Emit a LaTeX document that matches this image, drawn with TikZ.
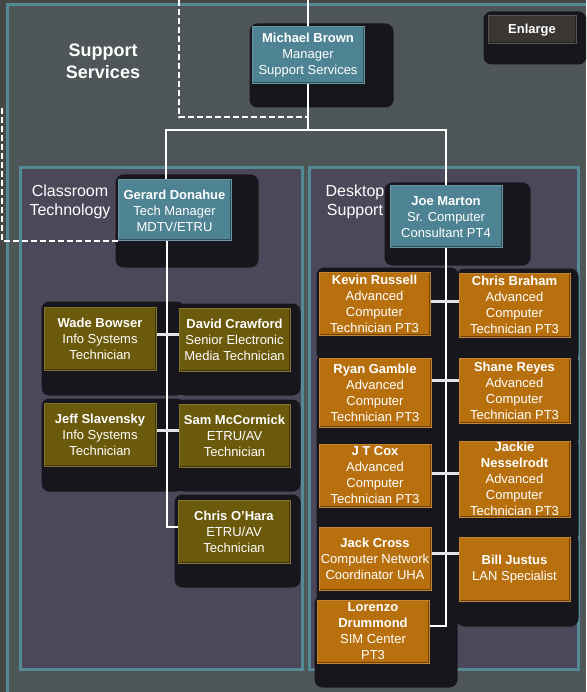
\documentclass[tikz,border=0pt]{standalone}
\usepackage{fontspec}
\setmainfont{Liberation Sans}
\definecolor{outerbg}{HTML}{474747}
\definecolor{framebg}{HTML}{4F5658}
\definecolor{panelbg}{HTML}{4B4859}
\definecolor{frameline}{HTML}{548A96}
\definecolor{tealc}{HTML}{4D8392}
\definecolor{olivec}{HTML}{6B5A0C}
\definecolor{orangec}{HTML}{B8700E}
\definecolor{shadowc}{HTML}{17161D}
\definecolor{btnc}{HTML}{3A3633}
\pgfdeclarelayer{bg}
\pgfdeclarelayer{shadow}
\pgfdeclarelayer{lines}
\pgfsetlayers{bg,shadow,lines,main}
\tikzset{
  orgbox/.style={draw=#1!85!white, fill=#1, line width=1pt, text=white, align=center,
    inner sep=0pt, font=\fontsize{13}{16}\selectfont,
    path picture={\draw[#1!60!black, line width=3pt]
      (path picture bounding box.south west) -- (path picture bounding box.south east)
      (path picture bounding box.south east) -- (path picture bounding box.north east);}},
  tbox/.style={orgbox=tealc},
  obox/.style={orgbox=olivec},
  rbox/.style={orgbox=orangec},
  conn/.style={draw=white, line width=2pt},
  stub/.style={draw=white!78!gray, line width=3pt},
  dashconn/.style={draw=white, line width=2pt, dash pattern=on 6pt off 3pt},
  panel/.style={fill=panelbg, draw=frameline, line width=3pt},
  heading/.style={text=white, align=center, inner sep=0pt}
}
\newcommand\placebox[7]{%
  \node[#1, minimum width={#5-#3}, minimum height={#6-#4}] (#2) at ({(#3+#5)/2},{(#4+#6)/2}) {#7};}
\newcommand\shadowof[5]{%
  \fill[shadowc, rounded corners=8pt] ([shift={(-#2,-#3)}]#1.north west) rectangle ([shift={(#4,#5)}]#1.south east);}
\begin{document}
\begin{tikzpicture}[x=1pt,y=-1pt]
\useasboundingbox (0,0) rectangle (586,692);
\begin{pgfonlayer}{bg}
  \fill[outerbg] (0,0) rectangle (586,692);
  \fill[framebg] (7,5) rectangle (586,692);
  \draw[frameline, line width=3pt] (7,692) -- (7,5) -- (586,5);
  \draw[panel] (20,168) rectangle (302,669);
  \draw[panel] (309,168) rectangle (578,669);
\end{pgfonlayer}

% headings
\node[heading, font=\bfseries\fontsize{18}{22}\selectfont] (ss) at (103,61) {Support\\Services};
\node[heading, font=\fontsize{16}{19}\selectfont] (ct) at (70,201.5) {Classroom\\Technology};
\node[heading, font=\fontsize{16}{19}\selectfont] (ds) at (355,201.5) {Desktop\\Support};

% enlarge button
\placebox{orgbox=btnc, font=\bfseries\fontsize{13}{16}\selectfont}{enl}{488}{16}{576}{44}{Enlarge}

% boxes
\placebox{tbox}{mb}{252}{27}{364}{84}{\textbf{Michael Brown}\\Manager\\Support Services}
\placebox{tbox}{gd}{118}{180}{231}{241}{\textbf{Gerard Donahue}\\Tech Manager\\MDTV/ETRU}
\placebox{tbox}{jm}{390}{186}{502}{248}{\textbf{Joe Marton}\\Sr. Computer\\Consultant PT4}
\placebox{obox}{wb}{44}{307}{156}{370}{\textbf{Wade Bowser}\\Info Systems\\Technician}
\placebox{obox}{dc}{179}{308}{290}{371}{\textbf{David Crawford}\\Senior Electronic\\Media Technician}
\placebox{obox}{js}{44}{403}{156}{466}{\textbf{Jeff Slavensky}\\Info Systems\\Technician}
\placebox{obox}{sm}{179}{404}{290}{467}{\textbf{Sam McCormick}\\ETRU/AV\\Technician}
\placebox{obox}{co}{178}{500}{290}{563}{\textbf{Chris O’Hara}\\ETRU/AV\\Technician}
\placebox{rbox}{kr}{319}{272}{430}{335}{\textbf{Kevin Russell}\\Advanced\\Computer\\Technician PT3}
\placebox{rbox}{cb}{459}{273}{570}{337}{\textbf{Chris Braham}\\Advanced\\Computer\\Technician PT3}
\placebox{rbox}{rg}{319}{358}{431}{427}{\textbf{Ryan Gamble}\\Advanced\\Computer\\Technician PT3}
\placebox{rbox}{sr}{459}{358}{570}{423}{\textbf{Shane Reyes}\\Advanced\\Computer\\Technician PT3}
\placebox{rbox}{jt}{319}{444}{431}{507}{\textbf{J T Cox}\\Advanced\\Computer\\Technician PT3}
\placebox{rbox}{jn}{459}{441}{570}{517}{\textbf{Jackie}\\\textbf{Nesselrodt}\\Advanced\\Computer\\Technician PT3}
\placebox{rbox}{jc}{319}{527}{431}{590}{\textbf{Jack Cross}\\Computer Network\\Coordinator UHA}
\placebox{rbox}{bj}{459}{537}{570}{601}{\textbf{Bill Justus}\\LAN Specialist}
\placebox{rbox}{ld}{317}{600}{429}{663}{\textbf{Lorenzo}\\\textbf{Drummond}\\SIM Center\\PT3}

% shadows
\begin{pgfonlayer}{shadow}
  \begin{scope}
  \clip (0,0) rectangle (586,692);
  \shadowof{enl}{4}{4}{10}{20}
  \shadowof{mb}{2}{3}{29}{23}
  \shadowof{gd}{2}{5}{27}{26}
  \shadowof{jm}{5}{3}{28}{17}
  \shadowof{wb}{2}{5}{28}{25}
  \shadowof{dc}{2}{4}{10}{24}
  \shadowof{js}{2}{4}{28}{25}
  \shadowof{sm}{2}{4}{10}{24}
  \shadowof{co}{3}{5}{10}{24}
  \shadowof{kr}{2}{4}{28}{25}
  \shadowof{rg}{2}{4}{28}{25}
  \shadowof{jt}{2}{4}{28}{25}
  \shadowof{jc}{2}{4}{28}{25}
  \shadowof{ld}{2}{4}{28}{24}
  \shadowof{cb}{2}{4}{8}{25}
  \shadowof{sr}{2}{4}{8}{25}
  \shadowof{jn}{2}{4}{8}{25}
  \shadowof{bj}{2}{4}{8}{25}
  \end{scope}
\end{pgfonlayer}

% connectors
\begin{pgfonlayer}{lines}
  \coordinate (top) at (308,0);
  \coordinate (split) at (308,130);
  \coordinate (dtop) at (179,0);
  \coordinate (djoin) at (308,117);
  \coordinate (dleft) at (2,108);
  \draw[dashconn] (dtop) |- (djoin);
  \draw[dashconn] (dleft) |- (gd.south west);
  \draw[conn] (top) -- (mb.north);
  \draw[conn] (mb.south) -- (split);
  \draw[conn] (split) -| ([xshift=-8.5pt]gd.north);
  \draw[conn] (split) -| (jm.north);
  \draw[conn] ([xshift=-7.5pt]gd.south) |- ([yshift=4.5pt]co.west);
  \draw[stub] ([yshift=4.5pt]wb.east) -- ([yshift=4.5pt]wb.east -| dc.west);
  \draw[stub] ([yshift=4.5pt]js.east) -- ([yshift=4.5pt]js.east -| sm.west);
  \draw[conn] (jm.south) |- ([yshift=5.5pt]ld.east);
  \draw[stub] ([yshift=2.5pt]kr.east) -- ([yshift=2.5pt]kr.east -| cb.west);
  \draw[stub] ([yshift=12.5pt]rg.east) -- ([yshift=12.5pt]rg.east -| sr.west);
  \draw[stub] ([yshift=2.5pt]jt.east) -- ([yshift=2.5pt]jt.east -| jn.west);
  \draw[stub] ([yshift=5.5pt]jc.east) -- ([yshift=5.5pt]jc.east -| bj.west);
\end{pgfonlayer}
\end{tikzpicture}
\end{document}
